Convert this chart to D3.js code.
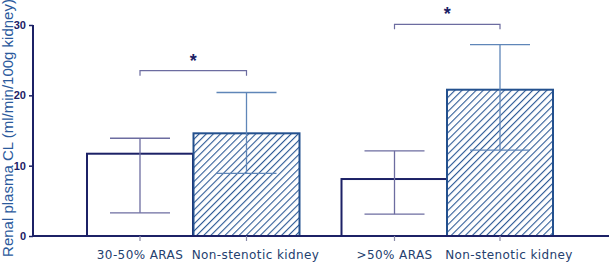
<!DOCTYPE html>
<html>
<head>
<meta charset="utf-8">
<script src="https://cdn.jsdelivr.net/npm/d3@7"></script>
<style>
  body { margin: 0; background: #fff; }
  svg { display: block; font-family: Verdana, "DejaVu Sans", sans-serif; }
</style>
</head>
<body>
<div id="chart"></div>
<script>
const categories = ['30-50% ARAS', 'Non-stenotic kidney', '>50% ARAS', 'Non-stenotic kidney '];
const means = [11.7, 14.6, 8.1, 20.8];
const errLow = [3.3, 8.9, 3.1, 12.2];
const errHigh = [13.9, 20.4, 12.1, 27.2];
const hatched = [false, true, false, true];
const yTicks = [0, 10, 20, 30];
const brackets = [
  { from: 0, to: 1, level: 23.5 },
  { from: 2, to: 3, level: 30.1 }
];

const W = 609, H = 263;
const margin = { top: 25, right: 0, bottom: 27, left: 33 };

const svg = d3.select('#chart').append('svg')
  .attr('width', W).attr('height', H);

const defs = svg.append('defs');
const pat = defs.append('pattern')
  .attr('id', 'hatch')
  .attr('patternUnits', 'userSpaceOnUse')
  .attr('width', 5).attr('height', 5)
  .attr('patternTransform', 'rotate(45)');
pat.append('rect').attr('width', 5).attr('height', 5).attr('fill', '#fff');
pat.append('line')
  .attr('x1', 0).attr('y1', 0).attr('x2', 0).attr('y2', 5)
  .attr('stroke', '#2d5a96').attr('stroke-width', 2.2);

// bar centres (two groups with a gap between them)
const xPos = d3.scaleOrdinal().domain(d3.range(4)).range([140, 246.5, 394.5, 500]);
const barW = 106;

const y = d3.scaleLinear()
  .domain([0, 30])
  .range([H - margin.bottom, margin.top]);

const g = svg.append('g');

// bars
categories.forEach((c, i) => {
  g.append('rect')
    .attr('x', xPos(i) - barW / 2)
    .attr('y', y(means[i]))
    .attr('width', barW)
    .attr('height', y(0) - y(means[i]))
    .attr('fill', hatched[i] ? 'url(#hatch)' : '#fff')
    .attr('stroke', hatched[i] ? '#23508e' : '#1c2166')
    .attr('stroke-width', 2);
});

// error bars
categories.forEach((c, i) => {
  const col = hatched[i] ? '#5f86b8' : '#6c6ca0';
  const cx = xPos(i);
  const cap = 30;
  g.append('line').attr('x1', cx).attr('x2', cx)
    .attr('y1', y(errLow[i])).attr('y2', y(errHigh[i]))
    .attr('stroke', col).attr('stroke-width', 1.3);
  [errLow[i], errHigh[i]].forEach(v => {
    g.append('line').attr('x1', cx - cap).attr('x2', cx + cap)
      .attr('y1', y(v)).attr('y2', y(v))
      .attr('stroke', col).attr('stroke-width', 1.3);
  });
});

// y axis
const yAxis = g.append('g')
  .attr('transform', `translate(${margin.left},0)`)
  .call(d3.axisLeft(y).tickValues(yTicks).tickSize(4).tickPadding(3));
yAxis.select('.domain').attr('stroke', '#1c2166').attr('stroke-width', 2).attr('d', `M0,${y(30)}V${y(0)}`);
yAxis.selectAll('.tick line').attr('stroke', '#1c2166').attr('stroke-width', 1.5);
yAxis.selectAll('.tick text')
  .attr('fill', '#1c2166').attr('font-weight', 'bold')
  .attr('font-size', 11).attr('font-family', 'Arial, "Liberation Sans", sans-serif');

// x axis baseline
g.append('line')
  .attr('x1', margin.left).attr('x2', W)
  .attr('y1', y(0)).attr('y2', y(0))
  .attr('stroke', '#1c2166').attr('stroke-width', 2);

// x ticks + labels (the hatched-bar labels sit a bit right of their tick)
categories.forEach((c, i) => {
  const cx = xPos(i);
  g.append('line').attr('x1', cx).attr('x2', cx)
    .attr('y1', y(0)).attr('y2', y(0) + 5)
    .attr('stroke', '#8a8aa8').attr('stroke-width', 1.2);
  g.append('text')
    .attr('x', cx + (hatched[i] ? 9 : 0)).attr('y', 259)
    .attr('text-anchor', 'middle')
    .attr('font-size', 12)
    .attr('letter-spacing', 0.4)
    .attr('fill', '#24406e')
    .text(c.trim());
});

// y label
svg.append('text')
  .attr('transform', `translate(13,128) rotate(-90)`)
  .attr('text-anchor', 'middle')
  .attr('font-size', 15)
  .attr('font-family', 'Arial, "Liberation Sans", sans-serif')
  .attr('fill', '#2b5a9c')
  .text('Renal plasma CL (ml/min/100g kidney)');

// significance brackets
brackets.forEach(b => {
  const x1 = xPos(b.from), x2 = xPos(b.to);
  const yy = y(b.level);
  g.append('path')
    .attr('d', `M${x1},${yy + 5}V${yy}H${x2}V${yy + 5}`)
    .attr('fill', 'none')
    .attr('stroke', '#6c6ca0').attr('stroke-width', 1.2);
  g.append('text')
    .attr('x', (x1 + x2) / 2).attr('y', yy - 4)
    .attr('text-anchor', 'middle')
    .attr('font-size', 18).attr('font-weight', 'bold')
    .attr('font-family', 'Arial, "Liberation Sans", sans-serif')
    .attr('fill', '#1c2166')
    .text('*');
});
</script>
</body>
</html>
